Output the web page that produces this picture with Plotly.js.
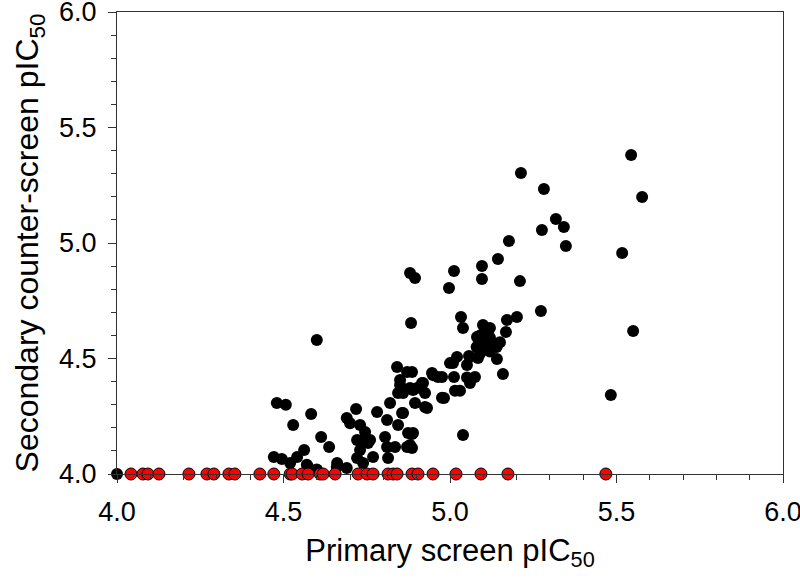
<!DOCTYPE html>
<html>
<head>
<meta charset="utf-8">
<script src="https://cdn.plot.ly/plotly-3.0.1.min.js"></script>
<style>
  html, body { margin: 0; padding: 0; background: #fff; }
  #chart { width: 800px; height: 586px; }
</style>
</head>
<body>
<div id="chart"></div>
<script>
// compounds active in both screens (primary pIC50, secondary pIC50)
const activeX = [
  5.544, 5.577, 5.213, 5.282, 5.318, 5.342, 5.276, 5.348, 5.177, 5.144,
  5.096, 5.096, 5.210, 5.517, 5.273, 5.201, 5.171, 5.168, 5.550, 5.483,
  5.012, 4.997, 4.880, 4.895, 5.033, 5.039, 4.883, 5.099, 5.120,
  5.09, 5.10, 5.11, 5.12, 5.13, 5.10, 5.12, 5.14, 5.08, 5.11, 5.15, 5.09,
  5.141, 5.159, 5.057, 5.021, 5.009, 5.051, 5.084, 5.075, 5.051, 5.060,
  5.012, 5.015, 5.030, 4.976, 4.976, 4.949, 4.916, 4.889, 4.859, 4.925,
  4.895, 4.931, 4.859, 4.874, 4.886, 4.871, 4.886, 5.039, 4.850, 4.880,
  4.841, 4.850, 4.871, 4.886, 4.946, 4.964, 4.919, 4.901, 4.844, 4.982,
  4.925, 4.820, 4.781, 4.856, 4.811, 4.844, 4.889, 4.805, 4.760, 4.811,
  4.835, 4.880, 4.769, 4.814, 5.000, 5.060, 5.081,
  4.480, 4.507, 4.583, 4.529, 4.613, 4.637, 4.718, 4.690, 4.700, 4.730,
  4.745, 4.721, 4.739, 4.754, 4.471, 4.495, 4.541, 4.562, 4.520, 4.574,
  4.661, 4.690, 4.721, 4.739, 4.730, 4.600, 4.000, 4.570, 4.660, 4.600
];
const activeY = [
  5.381, 5.199, 5.303, 5.234, 5.104, 5.069, 5.056, 4.987, 5.009, 4.931,
  4.900, 4.844, 4.835, 4.957, 4.706, 4.680, 4.667, 4.615, 4.619, 4.342,
  4.879, 4.805, 4.870, 4.848, 4.680, 4.632, 4.654, 4.645, 4.632,
  4.60, 4.58, 4.56, 4.59, 4.56, 4.54, 4.53, 4.55, 4.55, 4.61, 4.57, 4.52,
  4.498, 4.433, 4.511, 4.507, 4.480, 4.472, 4.502, 4.420, 4.418, 4.394,
  4.420, 4.360, 4.360, 4.330, 4.420, 4.428, 4.394, 4.364, 4.351, 4.351,
  4.307, 4.286, 4.264, 4.177, 4.173, 4.117, 4.113, 4.169, 4.385, 4.372,
  4.463, 4.407, 4.442, 4.442, 4.437, 4.420, 4.394, 4.372, 4.351, 4.329,
  4.290, 4.307, 4.268, 4.264, 4.234, 4.212, 4.177, 4.160, 4.147, 4.117,
  4.117, 4.126, 4.074, 4.069, 4.480, 4.507, 4.593,
  4.307, 4.300, 4.260, 4.212, 4.160, 4.117, 4.281, 4.242, 4.220, 4.212,
  4.182, 4.147, 4.147, 4.134, 4.074, 4.065, 4.074, 4.104, 4.048, 4.030,
  4.048, 4.026, 4.069, 4.048, 4.104, 4.580, 4.000, 4.040, 4.030, 4.020
];

// compounds inactive in the counter-screen (plotted at 4.0)
const inactiveX = [
  4.042, 4.078, 4.093, 4.126, 4.216, 4.270, 4.291, 4.336, 4.354, 4.429,
  4.471, 4.520, 4.526, 4.556, 4.574, 4.610, 4.619, 4.655, 4.724, 4.751,
  4.769, 4.814, 4.829, 4.841, 4.886, 4.904, 4.949, 5.018, 5.093, 5.174,
  5.468
];
const inactiveY = inactiveX.map(() => 4.0);

const tickVals = [4.0, 4.5, 5.0, 5.5, 6.0];
const tickText = ['4.0', '4.5', '5.0', '5.5', '6.0'];

const black = {
  type: 'scatter',
  mode: 'markers',
  x: activeX,
  y: activeY,
  cliponaxis: false,
  marker: { color: '#000000', size: 12 },
  hoverinfo: 'x+y'
};

const red = {
  type: 'scatter',
  mode: 'markers',
  x: inactiveX,
  y: inactiveY,
  cliponaxis: false,
  marker: { color: '#ff0000', size: 12, line: { color: '#000000', width: 1 } },
  hoverinfo: 'x+y'
};

const axisCommon = {
  range: [4, 6],
  tickmode: 'array',
  tickvals: tickVals,
  ticktext: tickText,
  ticklabeloverflow: 'allow',
  ticks: 'outside',
  ticklen: 8,
  tickwidth: 1,
  tickcolor: '#333',
  showline: true,
  linecolor: '#333',
  linewidth: 1,
  mirror: true,
  showgrid: false,
  zeroline: false,
  tickfont: { family: 'Liberation Sans, Arial, sans-serif', size: 27, color: '#000' },
  minor: { dtick: 0.1, tick0: 4, ticks: 'outside', ticklen: 5, tickcolor: '#333', showgrid: false }
};

const layout = {
  width: 800,
  height: 586,
  margin: { l: 117, r: 17, t: 12, b: 112 },
  paper_bgcolor: '#fff',
  plot_bgcolor: '#fff',
  showlegend: false,
  xaxis: Object.assign({}, axisCommon, {
    ticklabelstandoff: 6,
    title: {
      text: 'Primary screen pIC<sub>50</sub>',
      font: { family: 'Liberation Sans, Arial, sans-serif', size: 31, color: '#000' },
      standoff: 12
    }
  }),
  yaxis: Object.assign({}, axisCommon, {
    ticklabelstandoff: 6,
    title: {
      text: 'Secondary counter-screen pIC<sub>50</sub>',
      font: { family: 'Liberation Sans, Arial, sans-serif', size: 32, color: '#000' },
      standoff: 10
    }
  })
};

Plotly.newPlot('chart', [black, red], layout, { staticPlot: true });
</script>
</body>
</html>
